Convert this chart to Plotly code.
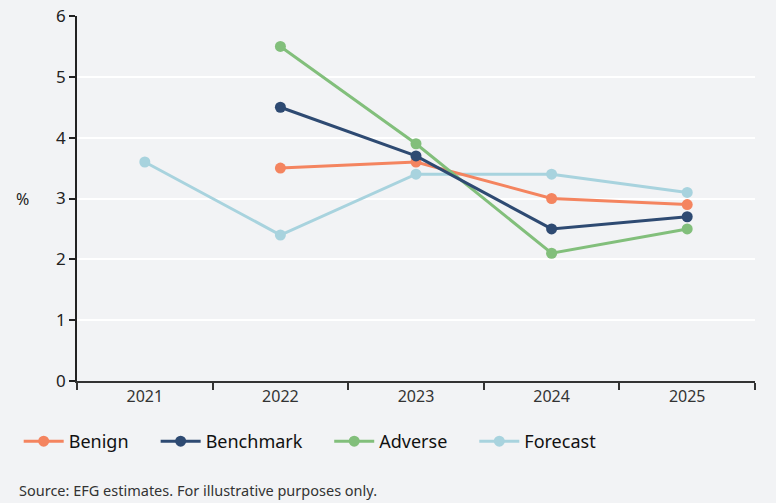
import plotly.graph_objects as go

years = ["2021", "2022", "2023", "2024", "2025"]
benign = [None, 3.5, 3.6, 3.0, 2.9]
benchmark = [None, 4.5, 3.7, 2.5, 2.7]
adverse = [None, 5.5, 3.9, 2.1, 2.5]
forecast = [3.6, 2.4, 3.4, 3.4, 3.1]

# (name, values, colour, legend id, legend x in paper coords)
series = [
    ("Forecast", forecast, "#a8d3de", "legend4", 0.586),
    ("Benign", benign, "#f4845f", "legend", -0.086),
    ("Adverse", adverse, "#82bf7b", "legend3", 0.372),
    ("Benchmark", benchmark, "#2e4a72", "legend2", 0.116),
]

fig = go.Figure()
legends = {}
for name, vals, color, leg, lx in series:
    fig.add_trace(go.Scatter(
        x=years, y=vals, name=name, mode="lines+markers",
        line=dict(color=color, width=3),
        marker=dict(color=color, size=11),
        legend=leg, connectgaps=False,
    ))
    legends[leg] = dict(orientation="h", x=lx, xanchor="left", y=-0.115, yanchor="top",
                        font=dict(size=18, color="#111111"), itemwidth=40,
                        bgcolor="rgba(0,0,0,0)")

font = "Noto Sans"
fig.update_layout(
    width=776, height=503,
    paper_bgcolor="#f2f3f5", plot_bgcolor="#f2f3f5",
    margin=dict(l=77, r=21, t=16, b=122, autoexpand=False),
    font=dict(family=font, size=14, color="#222222"),
    showlegend=True,
    **legends,
    xaxis=dict(type="category", range=[-0.5, 4.5], showgrid=False, automargin=False,
               showline=True, linecolor="#333333", linewidth=1.5,
               ticks="outside", tickson="boundaries", ticklen=7, tickcolor="#333333",
               tickwidth=1.5, tickfont=dict(size=16, color="#333333"), fixedrange=True),
    yaxis=dict(range=[0, 6], dtick=1, showgrid=True, gridcolor="#ffffff", gridwidth=2,
               showline=True, linecolor="#222222", linewidth=1.5, automargin=False,
               ticks="outside", ticklen=6, tickcolor="#222222", tickwidth=1.5,
               tickfont=dict(size=17, color="#222222"), zeroline=False),
    annotations=[
        dict(text="%", xref="paper", yref="paper", x=-0.081, y=0.5, showarrow=False,
             font=dict(size=16, color="#222222"), xanchor="center", yanchor="middle"),
        dict(text="Source: EFG estimates. For illustrative purposes only.", xref="paper", yref="paper",
             x=-0.089, y=-0.298, showarrow=False, xanchor="left", yanchor="middle",
             font=dict(size=14.5, color="#333333")),
    ],
)

fig.write_html("out.html", config={"displayModeBar": False},
               post_script="document.body.style.margin='0';document.body.style.background='#f2f3f5';")
